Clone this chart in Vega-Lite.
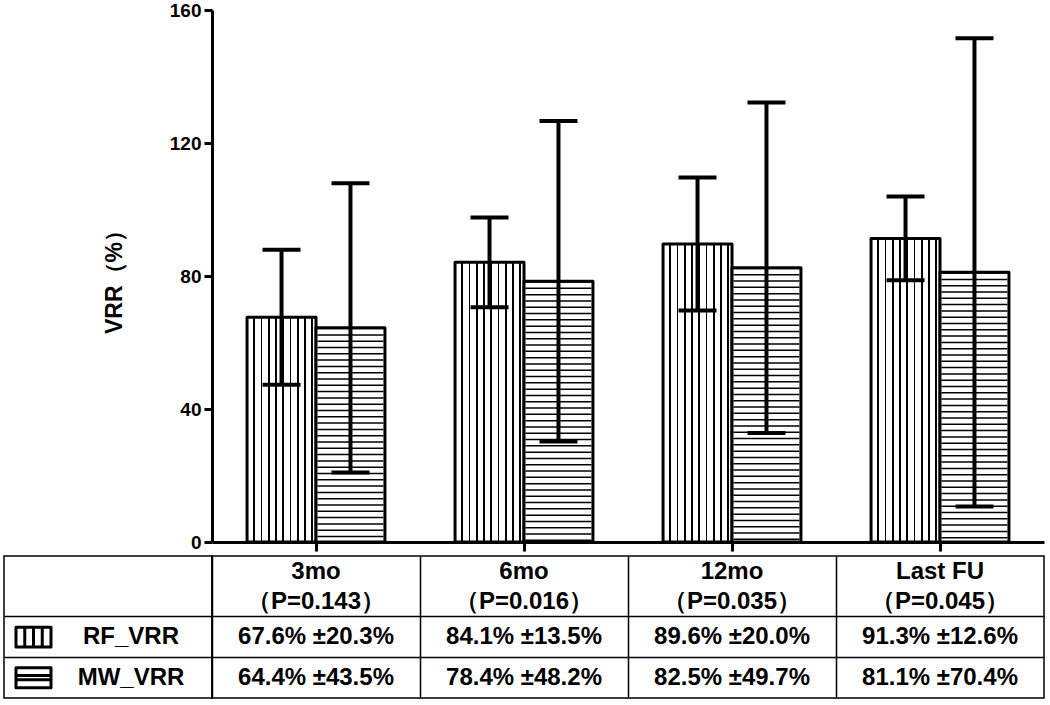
{
  "$schema": "https://vega.github.io/schema/vega-lite/v6.json",
  "background": "white",
  "padding": {"left": 3, "top": 1, "right": 7, "bottom": 6},
  "columns": 2,
  "spacing": {"row": 14, "column": 0},
  "bounds": "flush",
  "resolve": {"scale": {"x": "independent", "y": "independent"}},
  "config": {
    "view": {"stroke": null},
    "font": "Liberation Sans",
    "text": {"font": "Liberation Sans", "fontWeight": "bold", "fontSize": 24, "color": "black"}
  },
  "datasets": {
    "vrr": [
      {"time": "3mo", "group": "RF_VRR", "mean": 67.6, "sd": 20.3, "label": "67.6% ±20.3%"},
      {"time": "3mo", "group": "MW_VRR", "mean": 64.4, "sd": 43.5, "label": "64.4% ±43.5%"},
      {"time": "6mo", "group": "RF_VRR", "mean": 84.1, "sd": 13.5, "label": "84.1% ±13.5%"},
      {"time": "6mo", "group": "MW_VRR", "mean": 78.4, "sd": 48.2, "label": "78.4% ±48.2%"},
      {"time": "12mo", "group": "RF_VRR", "mean": 89.6, "sd": 20.0, "label": "89.6% ±20.0%"},
      {"time": "12mo", "group": "MW_VRR", "mean": 82.5, "sd": 49.7, "label": "82.5% ±49.7%"},
      {"time": "Last FU", "group": "RF_VRR", "mean": 91.3, "sd": 12.6, "label": "91.3% ±12.6%"},
      {"time": "Last FU", "group": "MW_VRR", "mean": 81.1, "sd": 70.4, "label": "81.1% ±70.4%"}
    ],
    "head": [
      {"time": "3mo", "p": "（P=0.143）"},
      {"time": "6mo", "p": "（P=0.016）"},
      {"time": "12mo", "p": "（P=0.035）"},
      {"time": "Last FU", "p": "（P=0.045）"}
    ],
    "groups": [{"group": "RF_VRR"}, {"group": "MW_VRR"}]
  },
  "concat": [
    {"width": 208, "height": 532, "data": {"values": []}, "mark": "point"},
    {
      "width": 832,
      "height": 532,
      "data": {"name": "vrr"},
      "encoding": {
        "x": {
          "field": "time", "type": "nominal",
          "scale": {"type": "band", "domain": ["3mo", "6mo", "12mo", "Last FU"], "paddingInner": 0.337, "paddingOuter": 0.1685},
          "axis": {"title": null, "labels": false, "ticks": true, "tickSize": 9, "tickWidth": 3, "tickColor": "black", "domainColor": "black", "domainWidth": 3, "grid": false}
        },
        "xOffset": {"field": "group", "type": "nominal", "scale": {"domain": ["RF_VRR", "MW_VRR"], "paddingInner": 0, "paddingOuter": 0}},
        "y": {
          "field": "mean", "type": "quantitative",
          "scale": {"domain": [0, 160], "nice": false},
          "axis": {"title": "VRR（%）", "values": [0, 40, 80, 120, 160], "grid": false, "tickSize": 8, "tickWidth": 3, "tickColor": "black", "domainColor": "black", "domainWidth": 3, "labelFont": "Liberation Sans", "labelFontSize": 19, "labelFontWeight": "bold", "labelColor": "black", "labelPadding": 3, "titleFont": "Liberation Sans", "titleFontSize": 23, "titleFontWeight": "bold", "titleColor": "black", "titlePadding": 43}
        }
      },
      "layer": [
        {
          "transform": [{"filter": "datum.group === 'RF_VRR'"}],
          "mark": {
            "type": "bar", "stroke": "black", "strokeWidth": 3, "strokeJoin": "round",
            "fill": {
              "gradient": "linear", "x1": 0, "y1": 0, "x2": 1, "y2": 0,
              "stops": [
                {"offset": 0, "color": "white"},
                {"offset": 0.093, "color": "white"}, {"offset": 0.093, "color": "black"}, {"offset": 0.117, "color": "black"}, {"offset": 0.117, "color": "white"},
                {"offset": 0.198, "color": "white"}, {"offset": 0.198, "color": "black"}, {"offset": 0.222, "color": "black"}, {"offset": 0.222, "color": "white"},
                {"offset": 0.303, "color": "white"}, {"offset": 0.303, "color": "black"}, {"offset": 0.327, "color": "black"}, {"offset": 0.327, "color": "white"},
                {"offset": 0.408, "color": "white"}, {"offset": 0.408, "color": "black"}, {"offset": 0.432, "color": "black"}, {"offset": 0.432, "color": "white"},
                {"offset": 0.513, "color": "white"}, {"offset": 0.513, "color": "black"}, {"offset": 0.537, "color": "black"}, {"offset": 0.537, "color": "white"},
                {"offset": 0.618, "color": "white"}, {"offset": 0.618, "color": "black"}, {"offset": 0.642, "color": "black"}, {"offset": 0.642, "color": "white"},
                {"offset": 0.723, "color": "white"}, {"offset": 0.723, "color": "black"}, {"offset": 0.747, "color": "black"}, {"offset": 0.747, "color": "white"},
                {"offset": 0.828, "color": "white"}, {"offset": 0.828, "color": "black"}, {"offset": 0.852, "color": "black"}, {"offset": 0.852, "color": "white"},
                {"offset": 0.933, "color": "white"}, {"offset": 0.933, "color": "black"}, {"offset": 0.957, "color": "black"}, {"offset": 0.957, "color": "white"},
                {"offset": 1, "color": "white"}
              ]
            }
          }
        },
        {
          "transform": [{"filter": "datum.group === 'MW_VRR'"}],
          "mark": {"type": "bar", "fill": "white", "stroke": "black", "strokeWidth": 3, "strokeJoin": "round"}
        },
        {
          "transform": [{"filter": "datum.group === 'MW_VRR'"}],
          "mark": {"type": "rule", "color": "black", "strokeWidth": 66, "strokeDash": [1.5, 4.8], "strokeCap": "butt"},
          "encoding": {"y2": {"datum": 0}}
        },
        {
          "mark": {
            "type": "errorbar", "size": 38, "thickness": 4, "color": "black",
            "ticks": {"color": "black", "opacity": 1},
            "rule": {"color": "black", "opacity": 1}
          },
          "encoding": {"yError": {"field": "sd"}}
        }
      ]
    },
    {
      "width": 208,
      "height": 142,
      "view": {"stroke": "black", "strokeWidth": 1.5},
      "data": {"name": "groups"},
      "encoding": {
        "y": {
          "field": "group", "type": "nominal", "bandPosition": 1,
          "scale": {"type": "band", "domain": ["name", "gap", "P", "RF_VRR", "RF_end", "MW_VRR", "MW_end"], "paddingInner": 0, "paddingOuter": 0},
          "axis": {"title": null, "labels": false, "ticks": false, "domain": false, "grid": true, "gridColor": "black", "gridWidth": 1.5, "values": ["RF_VRR", "MW_VRR"], "bandPosition": 0}
        }
      },
      "layer": [
        {
          "mark": {"type": "point", "xOffset": -74.5, "filled": false, "stroke": "black", "strokeWidth": 3, "strokeJoin": "round", "size": 1225, "opacity": 1},
          "encoding": {
            "shape": {
              "field": "group", "type": "nominal", "legend": null,
              "scale": {"domain": ["RF_VRR", "MW_VRR"], "range": ["M-1,-0.57H1V0.57H-1Z M-0.5,-0.57V0.57 M0,-0.57V0.57 M0.5,-0.57V0.57", "M-1,-0.57H1V0.57H-1Z M-1,-0.12H1 M-1,0.12H1"]}
            }
          }
        },
        {
          "mark": {"type": "text", "xOffset": 23},
          "encoding": {"text": {"field": "group"}}
        }
      ]
    },
    {
      "width": 832,
      "height": 142,
      "view": {"stroke": "black", "strokeWidth": 1.5},
      "encoding": {
        "x": {
          "field": "time", "type": "nominal",
          "scale": {"type": "band", "domain": ["3mo", "6mo", "12mo", "Last FU"], "paddingInner": 0, "paddingOuter": 0},
          "axis": {"title": null, "labels": false, "ticks": false, "domain": false, "grid": true, "gridColor": "black", "gridWidth": 1.5, "bandPosition": 0}
        }
      },
      "layer": [
        {
          "data": {"name": "head"},
          "mark": {"type": "text"},
          "encoding": {
            "y": {"datum": "name", "bandPosition": 0.8,
              "scale": {"type": "band", "domain": ["name", "gap", "P", "RF_VRR", "RF_end", "MW_VRR", "MW_end"], "paddingInner": 0, "paddingOuter": 0},
              "axis": {"title": null, "labels": false, "ticks": false, "domain": false, "grid": true, "gridColor": "black", "gridWidth": 1.5, "values": ["RF_VRR", "MW_VRR"], "bandPosition": 0}},
            "text": {"field": "time"}
          }
        },
        {
          "data": {"name": "head"},
          "mark": {"type": "text"},
          "encoding": {
            "y": {"datum": "P", "bandPosition": 0.27,
              "axis": {"title": null, "labels": false, "ticks": false, "domain": false, "grid": true, "gridColor": "black", "gridWidth": 1.5, "values": ["RF_VRR", "MW_VRR"], "bandPosition": 0}},
            "text": {"field": "p"}
          }
        },
        {
          "data": {"name": "vrr"},
          "mark": {"type": "text"},
          "encoding": {
            "y": {"field": "group", "type": "nominal", "bandPosition": 1,
              "axis": {"title": null, "labels": false, "ticks": false, "domain": false, "grid": true, "gridColor": "black", "gridWidth": 1.5, "values": ["RF_VRR", "MW_VRR"], "bandPosition": 0}},
            "text": {"field": "label"}
          }
        }
      ]
    }
  ]
}
